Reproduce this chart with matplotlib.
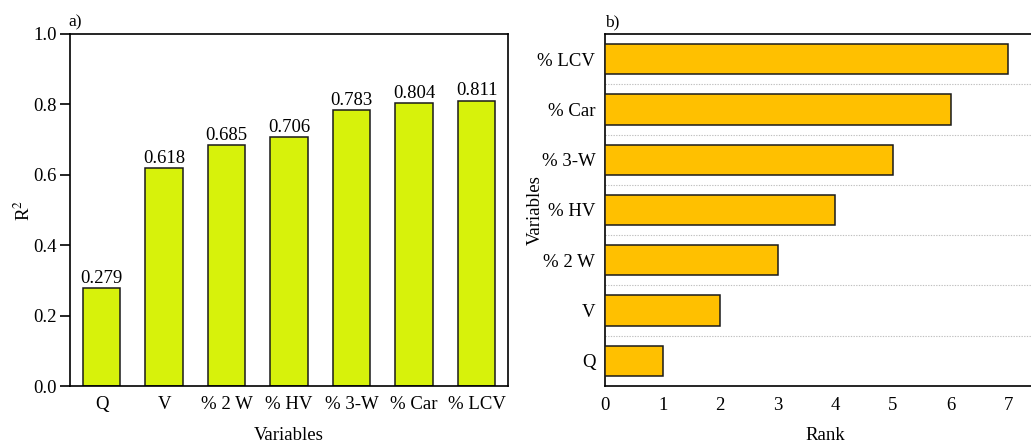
import matplotlib
matplotlib.use("Agg")
import matplotlib.pyplot as plt
import numpy as np

plt.rcParams['font.family'] = ['Liberation Serif', 'DejaVu Serif']
plt.rcParams['mathtext.fontset'] = 'stix'

variables = ["Q", "V", "% 2 W", "% HV", "% 3-W", "% Car", "% LCV"]
r2_values = [0.279, 0.618, 0.685, 0.706, 0.783, 0.804, 0.811]
ranks = [1, 2, 3, 4, 5, 6, 7]

FS = 13.5

fig = plt.figure(figsize=(10.31, 4.44), dpi=100)
W, H = 1031, 444

# Panel a: R^2 per variable
ax1 = fig.add_axes([70.3 / W, 1 - 386 / H, (508 - 70.3) / W, (386 - 34) / H])
x = np.arange(len(variables))
ax1.bar(x, r2_values, width=0.6, color="#D7F20B", edgecolor="#1a1a1a", linewidth=1.1)
for xi, v in zip(x, r2_values):
    ax1.text(xi, v + 0.003, f"{v:.3f}", ha="center", va="bottom", fontsize=FS)
ax1.set_xlim(-0.5, 6.5)
ax1.set_ylim(0, 1.0)
ax1.set_yticks(np.arange(0, 1.01, 0.2))
ax1.set_yticklabels([f"{t:.1f}" for t in np.arange(0, 1.01, 0.2)])
ax1.set_xticks(x)
ax1.set_xticklabels(variables)
ax1.tick_params(axis="y", direction="out", length=7, width=1.2, labelsize=FS, pad=3)
ax1.tick_params(axis="x", length=0, labelsize=FS, pad=7)
ax1.set_ylabel("R$^2$", fontsize=FS)
ax1.yaxis.set_label_coords(-0.084, 0.5)
ax1.set_xlabel("Variables", fontsize=FS, labelpad=10)
for s in ax1.spines.values():
    s.set_linewidth(1.2)
ax1.text(-0.005, 1.01, "a)", transform=ax1.transAxes, ha="left", va="bottom", fontsize=FS - 1)

# Panel b: rank per variable
ax2 = fig.add_axes([605 / W, 1 - 386 / H, (1045 - 605) / W, (386 - 34) / H])
y = np.arange(len(variables))
ax2.barh(y, ranks, height=0.6, color="#FFC000", edgecolor="#1a1a1a", linewidth=1.1, zorder=3)
ax2.set_ylim(-0.5, 6.5)
ax2.set_xlim(0, (1045 - 605) / 57.6)
ax2.set_xticks(range(0, 8))
ax2.set_yticks(y)
ax2.set_yticklabels(variables)
ax2.set_yticks(np.arange(0.5, 6, 1.0), minor=True)
ax2.grid(which="minor", axis="y", color="#c0c0c0", linestyle=(0, (1.2, 1.2)), linewidth=0.8, zorder=0)
ax2.tick_params(axis="both", which="both", length=0, labelsize=FS)
ax2.tick_params(axis="x", pad=8)
ax2.tick_params(axis="y", pad=7)
ax2.set_xlabel("Rank", fontsize=FS, labelpad=9)
ax2.set_ylabel("Variables", fontsize=FS)
ax2.yaxis.set_label_coords(-0.14, 0.5)
ax2.spines["right"].set_visible(False)
for s in ax2.spines.values():
    s.set_linewidth(1.2)
ax2.text(0.0, 1.01, "b)", transform=ax2.transAxes, ha="left", va="bottom", fontsize=FS - 1)

fig.savefig("out.png", dpi=100)
